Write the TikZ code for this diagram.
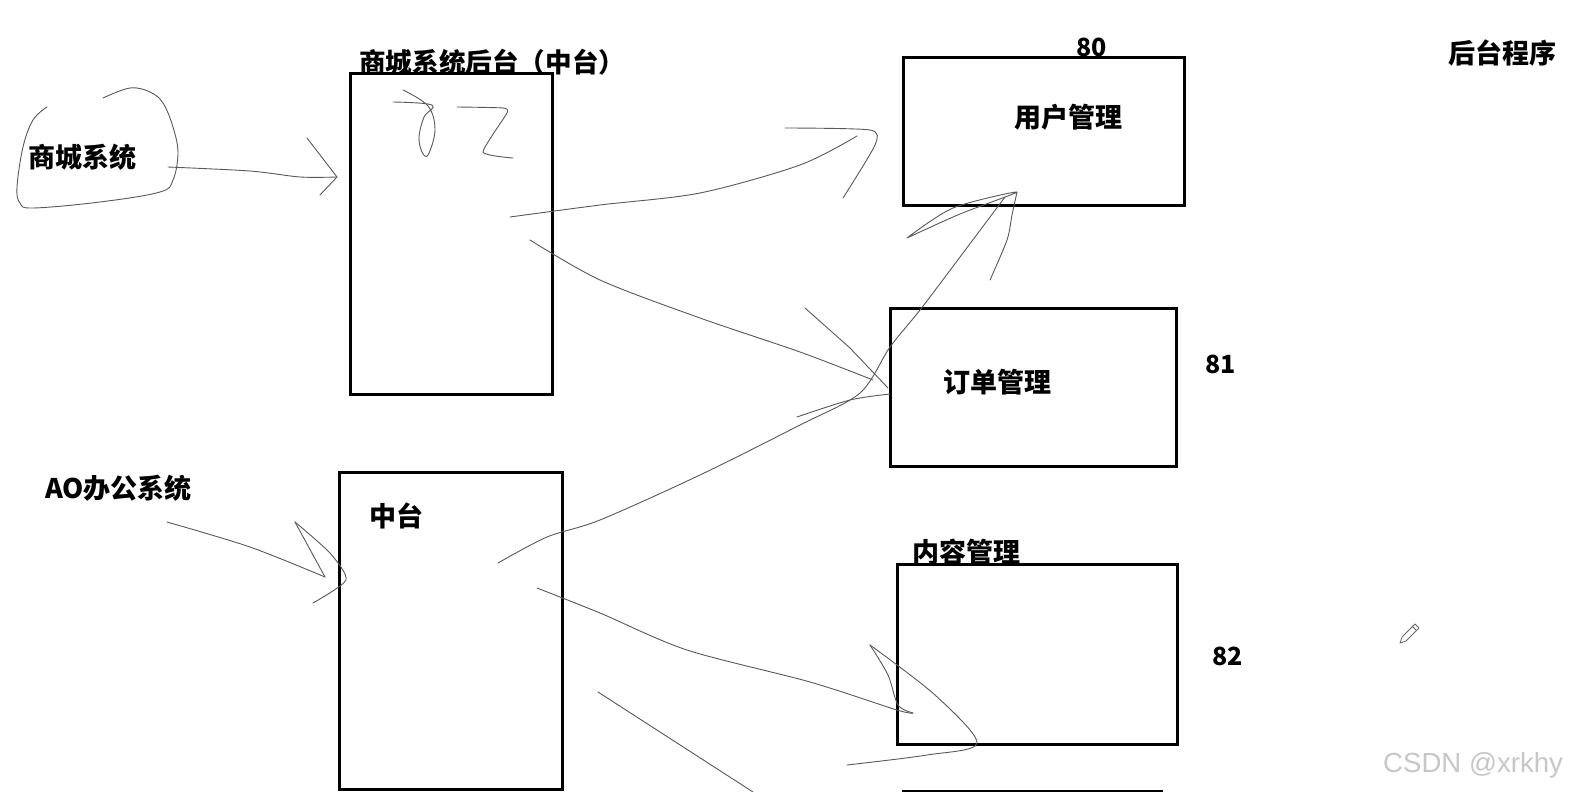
\documentclass[tikz,border=0pt]{standalone}
\usepackage{fontspec}
\newfontfamily\cjk{Noto Sans CJK SC}
\newfontfamily\wm{Liberation Sans}
\begin{document}
\begin{tikzpicture}[x=1pt,y=-1pt,
  box/.style={draw=black,line width=3pt,minimum width=#1},
  lbl/.style={inner sep=0pt,anchor=west,font=\cjk\bfseries\fontsize{27}{30}\selectfont},
  ink/.style={draw=black!65,line width=0.9pt,line cap=round,line join=round}]
\clip (0,0) rectangle (1569,792);
\fill[white] (0,0) rectangle (1569,792);
% boxes
\node[box=202pt,minimum height=320pt] (mall) at (451,234) {};
\node[box=223pt,minimum height=317pt] (mid) at (450.5,630.5) {};
\node[box=281pt,minimum height=147pt] (user) at (1043.5,131.5) {};
\node[box=286pt,minimum height=158pt] (order) at (1033,387) {};
\node[box=280pt,minimum height=180pt] (content) at (1037,654) {};
\node[box=258pt,minimum height=60pt,anchor=north west] (extra) at (902,790) {};
% labels
\node[lbl,font=\cjk\bfseries\fontsize{26.6}{30}\selectfont] (tmall) at (359,62) {商城系统后台（中台）};
\node[lbl] (tsys) at (28,157) {商城系统};
\node[lbl] (tao) at (45,488) {AO办公系统};
\node[lbl] (tmid) at (369,516) {中台};
\node[lbl,font=\cjk\bfseries\fontsize{25}{28}\selectfont] (n80) at (1076,47) {80};
\node[lbl] (tuser) at (1014,117) {用户管理};
\node[lbl] (torder) at (943,382) {订单管理};
\node[lbl,font=\cjk\bfseries\fontsize{25}{28}\selectfont] (n81) at (1205,364) {81};
\node[lbl] (tcontent) at (912,552) {内容管理};
\node[lbl,font=\cjk\bfseries\fontsize{25}{28}\selectfont] (n82) at (1212,656) {82};
\node[lbl] (tback) at (1448,53) {后台程序};
\node[inner sep=0pt,anchor=west,text=black!22,font=\wm\fontsize{27.6}{30}\selectfont] (wmk) at (1383,765) {CSDN @xrkhy};
% cloud around 商城系统
\draw[ink] plot[smooth,tension=0.6] coordinates {(47,107) (33,120) (23,147) (17,187) (20,203) (33,208) (100,202) (160,192) (173,180) (178,153) (173,127) (163,103) (150,92) (130,88) (103,98)};
% 商城系统 -> mall
\coordinate (a1s) at (168,167);
\coordinate (a1e) at (337,177);
\draw[ink] plot[smooth] coordinates {(a1s) (250,171) (300,177) (a1e)};
\draw[ink] (307,138) -- (a1e) -- (320,195);
% scribble 72
\draw[ink] plot[smooth,tension=0.6] coordinates {(403,90) (428,106) (435,130) (428,155) (422,152) (419,137) (424,117) (432,105) (393,102)};
\draw[ink] plot[smooth,tension=0.3] coordinates {(457,107) (503,108) (507,113) (483,152) (513,158)};
% mall -> user
\coordinate (a2s) at (510,217);
\coordinate (a2e) at (857,136);
\draw[ink] plot[smooth] coordinates {(a2s) (600,205) (700,193) (800,165) (a2e)};
\draw[ink] plot[smooth,tension=0.4] coordinates {(785,128) (870,130) (875,145) (843,198)};
% mall -> order
\coordinate (a3s) at (530,240);
\coordinate (a3e) at (873,380);
\draw[ink] plot[smooth] coordinates {(a3s) (600,280) (700,318) (800,352) (a3e)};
\draw[ink] (805,308) -- (850,348) -- (888,388);
\draw[ink] plot[smooth] coordinates {(797,417) (850,400) (890,394)};
% mid -> user (long curve)
\coordinate (a4s) at (498,563);
\coordinate (a4e) at (1017,192);
\draw[ink] plot[smooth] coordinates {(a4s) (547,537) (600,520) (700,475) (800,425) (860,393) (890,347) (920,310) (960,257) (1005,197)};
\draw[ink] plot[smooth,tension=0.5] coordinates {(907,238) (953,208) (a4e) (960,214) (907,238)};
\draw[ink] plot[smooth,tension=0.5] coordinates {(a4e) (1012,215) (1007,240) (990,280)};
% AO -> mid
\coordinate (a5s) at (167,522);
\coordinate (a5e) at (325,577);
\draw[ink] plot[smooth] coordinates {(a5s) (250,547) (a5e)};
\draw[ink] (295,522) -- (a5e);
\draw[ink] plot[smooth,tension=0.4] coordinates {(295,522) (330,553) (346,580) (313,603)};
% mid -> content
\coordinate (a6s) at (537,588);
\coordinate (a6e) at (913,713);
\draw[ink] plot[smooth] coordinates {(a6s) (600,613) (687,650) (810,682) (897,710) (a6e)};
\draw[ink] plot[smooth,tension=0.5] coordinates {(870,645) (888,675) (898,705) (a6e)};
\draw[ink] plot[smooth,tension=0.5] coordinates {(870,645) (935,695) (977,743) (927,755) (847,765)};
% lower line
\coordinate (a7s) at (598,692);
\coordinate (a7e) at (753,792);
\draw[ink] (a7s) -- (a7e);
% pencil icon
\draw[black!60,line width=0.8pt,line join=round] (1400,643) -- (1406,641) -- (1419,628) -- (1415,624) -- (1402,637) -- cycle;
\draw[black!60,line width=0.8pt] (1416,630) -- (1412,626);
\end{tikzpicture}
\end{document}
